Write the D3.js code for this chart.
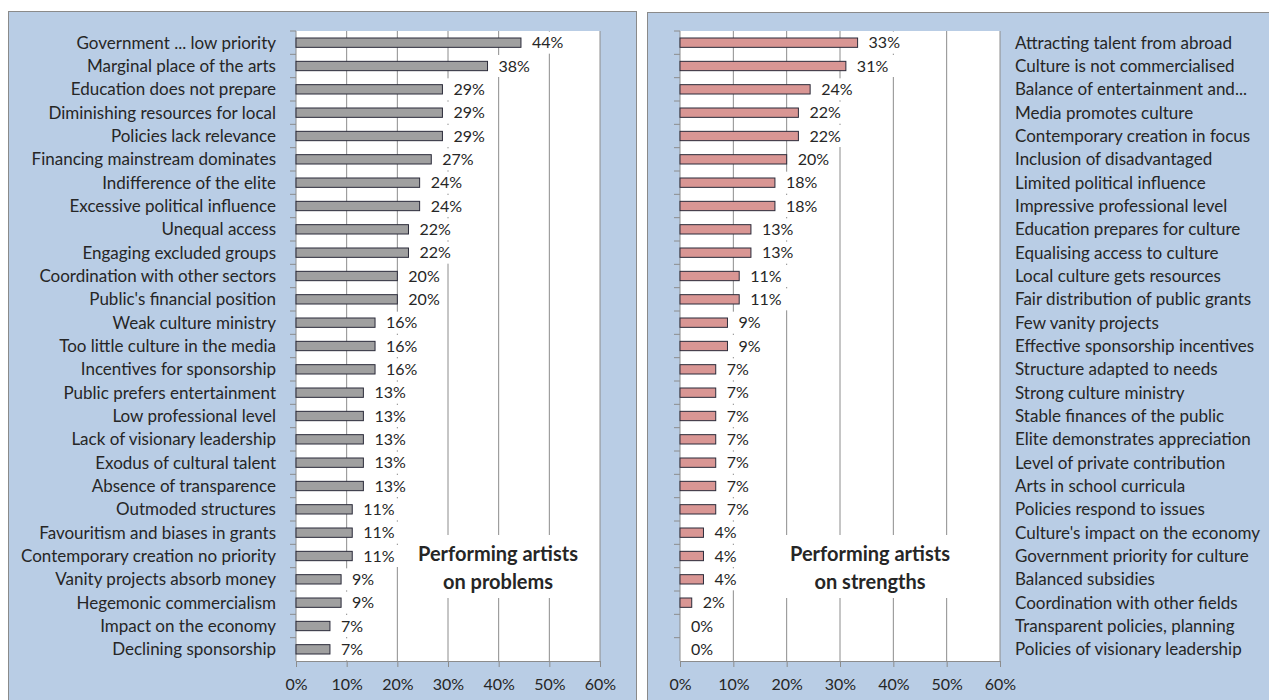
<!DOCTYPE html>
<html>
<head>
<meta charset="utf-8">
<script src="https://cdn.jsdelivr.net/npm/d3@7"></script>
<style>
  html, body { margin: 0; padding: 0; background: #ffffff; }
  svg { display: block; }
  text { font-family: Lato, "Open Sans", sans-serif; fill: #262626; }
</style>
</head>
<body>
<svg id="chart" width="1269" height="700"></svg>
<script>
// ---- data ----
const problemCategories = [
  "Government ... low priority", "Marginal place of the arts", "Education does not prepare",
  "Diminishing resources for local", "Policies lack relevance", "Financing mainstream dominates",
  "Indifference of the elite", "Excessive political influence", "Unequal access",
  "Engaging excluded groups", "Coordination with other sectors", "Public's financial position",
  "Weak culture ministry", "Too little culture in the media", "Incentives for sponsorship",
  "Public prefers entertainment", "Low professional level", "Lack of visionary leadership",
  "Exodus of cultural talent", "Absence of transparence", "Outmoded structures",
  "Favouritism and biases in grants", "Contemporary creation no priority", "Vanity projects absorb money",
  "Hegemonic commercialism", "Impact on the economy", "Declining sponsorship"
];
const problemValues = [
  44.4, 37.8, 28.9, 28.9, 28.9, 26.7, 24.4, 24.4, 22.2, 22.2, 20.0, 20.0, 15.6, 15.6, 15.6,
  13.3, 13.3, 13.3, 13.3, 13.3, 11.1, 11.1, 11.1, 8.9, 8.9, 6.7, 6.7
];
const strengthCategories = [
  "Attracting talent from abroad", "Culture is not commercialised", "Balance of entertainment and...",
  "Media promotes culture", "Contemporary creation in focus", "Inclusion of disadvantaged",
  "Limited political influence", "Impressive professional level", "Education prepares for culture",
  "Equalising access to culture", "Local culture gets resources", "Fair distribution of public grants",
  "Few vanity projects", "Effective sponsorship incentives", "Structure adapted to needs",
  "Strong culture ministry", "Stable finances of the public", "Elite demonstrates appreciation",
  "Level of private contribution", "Arts in school curricula", "Policies respond to issues",
  "Culture's impact on the economy", "Government priority for culture", "Balanced subsidies",
  "Coordination with other fields", "Transparent policies, planning", "Policies of visionary leadership"
];
const strengthValues = [
  33.3, 31.1, 24.4, 22.2, 22.2, 20.0, 17.8, 17.8, 13.3, 13.3, 11.1, 11.1, 8.9, 8.9,
  6.7, 6.7, 6.7, 6.7, 6.7, 6.7, 6.7, 4.4, 4.4, 4.4, 2.2, 0, 0
];
const xTicks = [0, 10, 20, 30, 40, 50, 60];
const titles = [["Performing artists", "on problems"], ["Performing artists", "on strengths"]];

// ---- drawing ----
const svg = d3.select("#chart");
const fmt = v => Math.round(v) + "%";

function panel(cfg) {
  const g = svg.append("g");
  g.append("rect")
    .attr("x", cfg.px).attr("y", cfg.py).attr("width", cfg.pw).attr("height", cfg.ph)
    .attr("fill", "#b9cde5").attr("stroke", "#8a8a8a").attr("stroke-width", 1);

  const x = d3.scaleLinear().domain([0, 60]).range([cfg.x0, cfg.x1]);
  const y = d3.scaleBand().domain(cfg.cats).range([cfg.y0, cfg.y1]).paddingInner(0.6).paddingOuter(0.3);
  const yb = d3.scaleBand().domain(cfg.cats).range([cfg.y0, cfg.y1]);

  // plot area
  g.append("rect").attr("x", cfg.x0).attr("y", cfg.y0)
    .attr("width", cfg.x1 - cfg.x0).attr("height", cfg.y1 - cfg.y0).attr("fill", "#ffffff");

  // gridlines
  g.append("g").selectAll("line").data(xTicks.slice(1)).join("line")
    .attr("x1", d => x(d)).attr("x2", d => x(d))
    .attr("y1", cfg.y0).attr("y2", cfg.y1)
    .attr("stroke", "#8c8c8c").attr("stroke-width", 1);

  // title box + title
  const tb = g.append("g");
  tb.append("rect").attr("x", cfg.tx - 95).attr("y", 535).attr("width", 190).attr("height", 63).attr("fill", "#ffffff");
  tb.selectAll("text").data(cfg.title).join("text")
    .attr("x", cfg.tx).attr("y", (d, i) => 561 + i * 28)
    .attr("text-anchor", "middle").attr("font-weight", "bold").attr("font-size", 20)
    .text(d => d);

  // x axis
  const xa = g.append("g").attr("transform", `translate(0,${cfg.y1})`)
    .call(d3.axisBottom(x).tickValues(xTicks).tickFormat(d => d + "%").tickSize(6).tickPadding(12));
  xa.select(".domain").attr("stroke", "#8c8c8c");
  xa.selectAll(".tick line").attr("stroke", "#8c8c8c");
  xa.selectAll(".tick text").attr("font-size", 16).attr("font-family", "Lato, sans-serif").attr("fill", "#262626");

  // y axis line and ticks at category boundaries
  g.append("line").attr("x1", cfg.x0).attr("x2", cfg.x0).attr("y1", cfg.y0).attr("y2", cfg.y1)
    .attr("stroke", "#8c8c8c");
  g.append("g").selectAll("line").data(cfg.cats).join("line")
    .attr("x1", cfg.x0 - 6).attr("x2", cfg.x0)
    .attr("y1", d => yb(d)).attr("y2", d => yb(d))
    .attr("stroke", "#8c8c8c");

  // bars
  g.append("g").selectAll("rect").data(cfg.vals).join("rect")
    .attr("x", cfg.x0).attr("y", (d, i) => y(cfg.cats[i]))
    .attr("width", d => x(d) - cfg.x0).attr("height", y.bandwidth())
    .attr("fill", cfg.color).attr("stroke", "#2b2b3a").attr("stroke-width", 1);

  // value labels with white boxes
  const lg = g.append("g");
  cfg.vals.forEach((v, i) => {
    const cy = yb(cfg.cats[i]) + yb.bandwidth() / 2;
    const tx = x(v) + 11;
    const box = lg.append("rect").attr("fill", "#ffffff");
    const t = lg.append("text").attr("x", tx).attr("y", cy).attr("dy", "0.35em")
      .attr("font-size", 16).text(fmt(v));
    const w = t.node().getComputedTextLength();
    box.attr("x", x(v) + 4).attr("y", cy - 11).attr("width", w + 14).attr("height", 22);
  });

  // category labels
  g.append("g").selectAll("text").data(cfg.cats).join("text")
    .attr("x", cfg.lx).attr("y", d => yb(d) + yb.bandwidth() / 2).attr("dy", "0.35em")
    .attr("text-anchor", cfg.anchor).attr("font-size", 17)
    .text(d => d);
}

panel({
  px: 8.5, py: 11.5, pw: 628, ph: 700,
  x0: 296, x1: 600, y0: 31, y1: 661,
  cats: problemCategories, vals: problemValues, color: "#a0a0a0",
  lx: 276, anchor: "end", tx: 498, title: titles[0]
});
panel({
  px: 647.5, py: 12.5, pw: 640, ph: 700,
  x0: 680, x1: 1000, y0: 31, y1: 661,
  cats: strengthCategories, vals: strengthValues, color: "#d99694",
  lx: 1015, anchor: "start", tx: 870, title: titles[1]
});
</script>
</body>
</html>
